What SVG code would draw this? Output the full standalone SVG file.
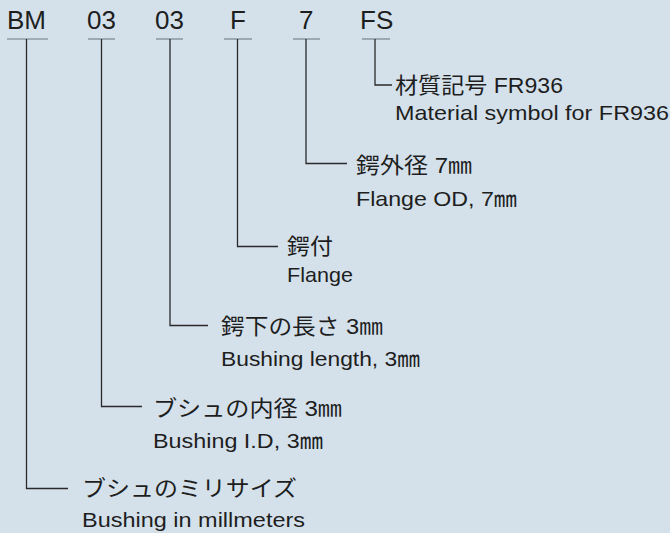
<svg xmlns="http://www.w3.org/2000/svg" width="670" height="533" viewBox="0 0 670 533">
  <style>
    .code { font-family: "Liberation Sans", Arial, sans-serif; font-size: 26px; fill: #1e1e1e; }
    .jp { font-family: "Liberation Sans", "Noto Sans CJK JP", sans-serif; font-size: 22px; fill: #1e1e1e; }
    .en { font-family: "Liberation Sans", "Noto Sans CJK JP", sans-serif; font-size: 21px; fill: #1e1e1e; }
    .ul { stroke: #8d9ba6; stroke-width: 1.6; fill: none; }
    .conn { stroke: #2a2a2a; stroke-width: 1.3; fill: none; }
  </style>
  <rect x="0" y="0" width="670" height="533" fill="#d4e1eb"/>

  <g id="codes">
    <g id="code-BM"><text class="code" x="7" y="29">BM</text><line class="ul" x1="7" y1="39" x2="48" y2="39"/></g>
    <g id="code-03a"><text class="code" x="87" y="29">03</text><line class="ul" x1="88" y1="39" x2="115" y2="39"/></g>
    <g id="code-03b"><text class="code" x="155" y="29">03</text><line class="ul" x1="156" y1="39" x2="183" y2="39"/></g>
    <g id="code-F"><text class="code" x="230" y="29">F</text><line class="ul" x1="224" y1="39" x2="252" y2="39"/></g>
    <g id="code-7"><text class="code" x="299" y="29">7</text><line class="ul" x1="293" y1="39" x2="320" y2="39"/></g>
    <g id="code-FS"><text class="code" x="360" y="29">FS</text><line class="ul" x1="362" y1="39" x2="390" y2="39"/></g>
  </g>

  <g id="connectors">
    <path class="conn" d="M26.5 39 V488.5 H68"/>
    <path class="conn" d="M101.5 39 V406.5 H142"/>
    <path class="conn" d="M170 39 V325.5 H208"/>
    <path class="conn" d="M237.5 39 V246.5 H278"/>
    <path class="conn" d="M306 39 V163.5 H347"/>
    <path class="conn" d="M375 39 V85 H392"/>
  </g>

  <g id="label-FS">
    <text class="jp" x="395" y="93" textLength="168" lengthAdjust="spacingAndGlyphs">材質記号 FR936</text>
    <text class="en" x="395" y="120" textLength="274" lengthAdjust="spacingAndGlyphs">Material symbol for FR936</text>
  </g>
  <g id="label-7">
    <text class="jp" x="356" y="173" textLength="116" lengthAdjust="spacingAndGlyphs">鍔外径 7㎜</text>
    <text class="en" x="356" y="206" textLength="161" lengthAdjust="spacingAndGlyphs">Flange OD, 7㎜</text>
  </g>
  <g id="label-F">
    <text class="jp" x="287" y="254" textLength="46" lengthAdjust="spacingAndGlyphs">鍔付</text>
    <text class="en" x="287" y="282" textLength="66" lengthAdjust="spacingAndGlyphs">Flange</text>
  </g>
  <g id="label-03b">
    <text class="jp" x="221" y="334" textLength="162" lengthAdjust="spacingAndGlyphs">鍔下の長さ 3㎜</text>
    <text class="en" x="221" y="366" textLength="199" lengthAdjust="spacingAndGlyphs">Bushing length, 3㎜</text>
  </g>
  <g id="label-03a">
    <text class="jp" x="153" y="416" textLength="189" lengthAdjust="spacingAndGlyphs">ブシュの内径 3㎜</text>
    <text class="en" x="153" y="448" textLength="170" lengthAdjust="spacingAndGlyphs">Bushing I.D, 3㎜</text>
  </g>
  <g id="label-BM">
    <text class="jp" x="82" y="496" textLength="215" lengthAdjust="spacingAndGlyphs">ブシュのミリサイズ</text>
    <text class="en" x="82" y="527" textLength="223" lengthAdjust="spacingAndGlyphs">Bushing in millmeters</text>
  </g>
</svg>
